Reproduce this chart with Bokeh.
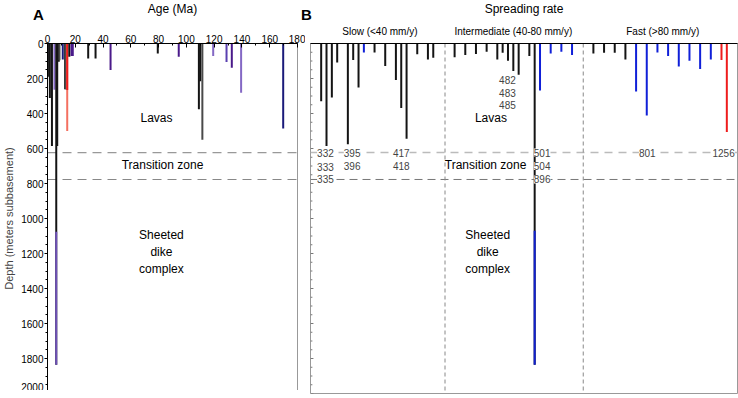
from bokeh.plotting import figure
from bokeh.models import Range1d, ColumnDataSource, Span, LabelSet, FixedTicker, SingleIntervalTicker
from bokeh.layouts import row, column
from bokeh.embed import file_html
from bokeh.resources import INLINE
from bokeh.core.properties import value

FONT = "Liberation Sans"

# ---------------- data: panel A (age vs. depth of basement penetration) ----------------
age_ma = [0.0, 0.3, 1.7, 3.2, 5.0, 6.3, 7.0, 8.1, 8.6, 11.0,
          12.7, 13.1, 14.2, 14.2, 15.7, 17.3, 18.2, 29.3, 34.6, 45.4,
          79.4, 94.5, 109.0, 110.0, 111.5, 119.3, 128.9, 132.7, 139.4, 169.7]
depth_a = [95, 190, 312, 585, 264, 1836, 585, 104, 95, 91,
           261, 261, 500, 265, 76, 72, 72, 86, 86, 152,
           57, 76, 375, 215, 550, 72, 105, 139, 282, 486]
type_a = ['p', 'k', 'k', 'k', 'lp', 'k', 'k', 'k', 'g', 'n',
          'k', 'g', 's', 'r', 'k', 'p', 'p', 'k', 'k', 'p',
          'k', 'p', 'k', 'k', 'g', 'lp', 'bp', 'p', 'lp', 'n']
dike_age = [6.3]
dike_top_a = [1075]
dike_bottom_a = [1836]

# ---------------- data: panel B (holes ordered by spreading rate) ----------------
slot_b = [2, 3, 4, 5, 7, 8, 9, 10, 12, 14, 16, 17, 18, 20, 22, 23,
          27, 29, 31, 33, 35, 36, 37, 38, 39, 41, 42, 43, 45, 47, 49,
          53, 55, 57, 59, 61, 63, 65, 67, 69, 71, 73, 75, 77, 78]
depth_b = [330, 585, 308, 109, 576, 94, 251, 51, 51, 128, 208, 368, 544, 62, 91, 81,
           79, 66, 60, 47, 91, 53, 98, 157, 179, 72, 1836, 268, 57, 47, 66,
           57, 53, 53, 91, 274, 412, 51, 72, 132, 98, 146, 91, 94, 506]
type_b = ['k'] * 7 + ['b'] + ['k'] * 8 + \
         ['k'] * 11 + ['b'] * 4 + \
         ['k'] * 4 + ['b'] * 8 + ['r'] * 2
dike_slot = [42]
dike_top_b = [1070]
dike_bottom_b = [1836]

site_labels = ["332", "333", "335", "395", "396", "417", "418", "482", "483", "485",
               "501", "504", "896", "801", "1256"]
site_slot = [2.8, 2.8, 2.8, 7.8, 7.8, 17, 17, 36.9, 36.9, 36.9, 43.4, 43.4, 43.4, 63.1, 77.4]
site_depth = [623, 705, 777, 623, 700, 623, 700, 208, 280, 350, 623, 700, 777, 623, 623]

rate_ticks = [13, 38, 66]
rate_names = ["Slow (<40 mm/y)", "Intermediate (40-80 mm/y)", "Fast (>80 mm/y)"]
group_dividers = [25.2, 51.1]

depth_major_ticks = list(range(0, 2001, 200))
depth_minor_ticks = [d for d in range(0, 2001, 50) if d % 200 != 0]

transition_top = 623
transition_bottom = 777

zone_names = ["Lavas", "Transition zone", "Sheeted\ndike\ncomplex"]

COLORS = {'k': '#141414', 'g': '#4a4a4a', 'p': '#4a1a8a', 'lp': '#8468c4', 'bp': '#5a40b0',
          'n': '#1a1a7a', 'r': '#ee1c1c', 's': '#f47060', 'b': '#1020d8'}

A_LEFT, A_FRAME, A_RIGHT = 47, 250, 8
B_LEFT, B_FRAME, B_RIGHT = 5, 427, 1
STRIP_H = 22
TOP = 13
FRAME_H = 350
TOTAL_W = A_LEFT + A_FRAME + A_RIGHT + B_LEFT + B_FRAME + B_RIGHT


def style_common(p):
    p.xgrid.grid_line_color = None
    p.ygrid.grid_line_color = None
    p.outline_line_color = "#999999"
    for ax in p.axis:
        ax.major_label_text_font = FONT
        ax.axis_label_text_font = FONT
        ax.axis_label_text_font_style = "normal"
        ax.major_label_text_font_size = "10px"
        ax.axis_label_text_font_size = "12px"
        ax.major_label_text_color = "#000000"


# ---------------- title strip (panel letters and axis titles) ----------------
strip = figure(title=None, width=TOTAL_W, height=STRIP_H, x_range=Range1d(0, TOTAL_W),
               y_range=Range1d(STRIP_H, 0), toolbar_location=None, output_backend="svg",
               min_border=0, outline_line_color=None)
strip.axis.visible = False
strip.xgrid.grid_line_color = None
strip.ygrid.grid_line_color = None
strip.text(x=[38, 306], y=[13.5, 13.5], text=["A", "B"], text_font=value(FONT), text_font_style="bold",
           text_font_size="15px", text_align="center", text_baseline="alphabetic", text_color="#000000")
strip.text(x=[A_LEFT + A_FRAME / 2, A_LEFT + A_FRAME + A_RIGHT + B_LEFT + B_FRAME / 2], y=[8, 8],
           text=["Age (Ma)", "Spreading rate"], text_font=value(FONT), text_font_size="12px",
           text_align="center", text_baseline="middle", text_color="#000000")

# ---------------- panel A ----------------
pA = figure(title=None, frame_width=A_FRAME, frame_height=FRAME_H, x_range=Range1d(0, 180),
            y_range=Range1d(2000, 0), x_axis_location="above", toolbar_location=None, output_backend="svg",
            min_border_left=A_LEFT, min_border_right=A_RIGHT, min_border_top=TOP, min_border_bottom=5)
style_common(pA)
pA.xaxis.ticker = SingleIntervalTicker(interval=20, num_minor_ticks=2)
pA.xaxis.major_tick_in = 4
pA.xaxis.major_tick_out = 0
pA.xaxis.minor_tick_in = 2
pA.xaxis.minor_tick_out = 0
pA.xaxis.major_label_standoff = 1
pA.yaxis.ticker = SingleIntervalTicker(interval=200, num_minor_ticks=4)
pA.yaxis.axis_label = "Depth (meters subbasement)"
pA.yaxis.axis_label_text_font_size = "11px"
pA.yaxis.major_tick_in = 0
pA.yaxis.major_tick_out = 3
pA.yaxis.minor_tick_in = 0
pA.yaxis.minor_tick_out = 2
pA.yaxis.major_label_standoff = 1
pA.yaxis.axis_label_standoff = 3

for loc, col, w in [(transition_top, "#999999", 1.3), (transition_bottom, "#888888", 1.1)]:
    pA.add_layout(Span(location=loc, dimension="width", line_color=col, line_dash="9 6",
                       line_width=w, level="underlay"))

srcA = ColumnDataSource(dict(x=age_ma, y=depth_a, c=[COLORS[t] for t in type_a]))
pA.segment(x0="x", y0=0, x1="x", y1="y", line_color="c", line_width=2, source=srcA)
pA.segment(x0=dike_age, y0=dike_top_a, x1=dike_age, y1=dike_bottom_a, line_color="#6e50b8", line_width=2)

pA.text(x=[78.5, 82.8, 82.0], y=[425, 697, 1190], text=zone_names, text_font=value(FONT),
        text_font_size="12px", text_align="center", text_baseline="middle", text_color="#000000")

# ---------------- panel B ----------------
pB = figure(title=None, frame_width=B_FRAME, frame_height=FRAME_H, x_range=Range1d(0, 80),
            y_range=Range1d(2000, 0), x_axis_location="above", y_axis_location=None,
            toolbar_location=None, output_backend="svg",
            min_border_left=B_LEFT, min_border_right=B_RIGHT, min_border_top=TOP, min_border_bottom=5)
style_common(pB)
pB.xaxis.ticker = FixedTicker(ticks=rate_ticks)
pB.xaxis.major_label_overrides = {t: n for t, n in zip(rate_ticks, rate_names)}
pB.xaxis.major_tick_line_color = None
pB.xaxis.minor_tick_line_color = None
pB.xaxis.major_label_standoff = 1

pB.segment(x0=0, y0=depth_major_ticks, x1=0.55, y1=depth_major_ticks, line_color="#777777", line_width=1)
pB.segment(x0=0, y0=depth_minor_ticks, x1=0.35, y1=depth_minor_ticks, line_color="#777777", line_width=1)

pB.add_layout(Span(location=transition_top, dimension="width", line_color="#bbbbbb",
                   line_dash="8 6", line_width=1.5, level="underlay"))
pB.add_layout(Span(location=transition_bottom, dimension="width", line_color="#777777",
                   line_dash="8 5", line_width=1, level="underlay"))
for d in group_dividers:
    pB.add_layout(Span(location=d, dimension="height", line_color="#888888",
                       line_dash="4 3", line_width=1, level="underlay"))

srcB = ColumnDataSource(dict(x=slot_b, y=depth_b, c=[COLORS[t] for t in type_b]))
pB.segment(x0="x", y0=0, x1="x", y1="y", line_color="c", line_width=2, source=srcB)
pB.segment(x0=dike_slot, y0=dike_top_b, x1=dike_slot, y1=dike_bottom_b, line_color="#1020d0", line_width=2)

labsrc = ColumnDataSource(dict(x=site_slot, y=site_depth, t=site_labels))
pB.add_layout(LabelSet(x="x", y="y", text="t", source=labsrc, text_font=value(FONT),
                       text_font_size="10px", text_align="center", text_baseline="middle",
                       background_fill_color="white"))

pB.text(x=[33.8, 32.8, 33.2], y=[425, 697, 1190], text=zone_names, text_font=value(FONT),
        text_font_size="12px", text_align="center", text_baseline="middle", text_color="#000000")

layout = column(strip, row(pA, pB))
open("out.html", "w").write(file_html(layout, INLINE, "Basement penetration"))
